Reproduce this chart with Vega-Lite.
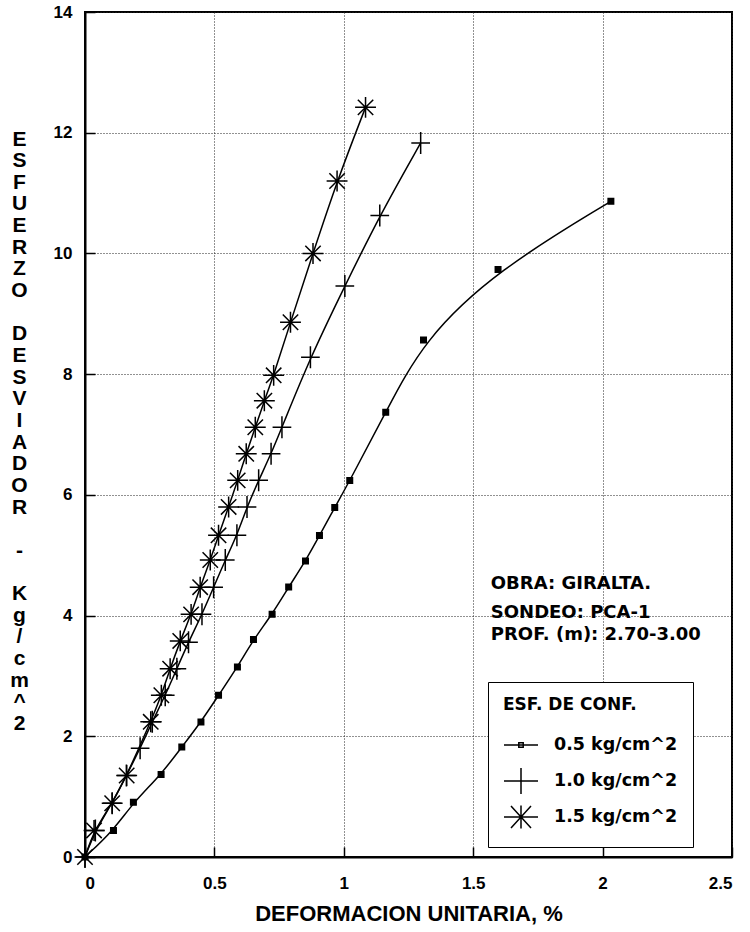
{
  "$schema": "https://vega.github.io/schema/vega-lite/v6.json",
  "width": 647,
  "height": 845,
  "autosize": {"type": "none"},
  "padding": {"left": 85, "top": 12, "right": 18, "bottom": 75},
  "background": "white",
  "config": {
    "font": "Liberation Sans",
    "view": {"stroke": "black", "strokeWidth": 2},
    "axis": {
      "grid": true,
      "gridColor": "#222222",
      "gridDash": [1, 2],
      "gridWidth": 1,
      "domainColor": "black",
      "domainWidth": 2,
      "tickColor": "black",
      "tickWidth": 1.5,
      "tickSize": -10,
      "labelFont": "Liberation Sans",
      "labelFontSize": 17,
      "labelFontWeight": "bold",
      "labelColor": "black",
      "titleFont": "Liberation Sans",
      "titleFontWeight": "bold",
      "titleColor": "black"
    }
  },
  "datasets": {
    "ensayo": [
      {"conf": "0.5 kg/cm^2", "def": 0, "esf": 0},
      {"conf": "0.5 kg/cm^2", "def": 0.11, "esf": 0.44},
      {"conf": "0.5 kg/cm^2", "def": 0.187, "esf": 0.906},
      {"conf": "0.5 kg/cm^2", "def": 0.294, "esf": 1.365},
      {"conf": "0.5 kg/cm^2", "def": 0.374, "esf": 1.822},
      {"conf": "0.5 kg/cm^2", "def": 0.448, "esf": 2.237},
      {"conf": "0.5 kg/cm^2", "def": 0.516, "esf": 2.679},
      {"conf": "0.5 kg/cm^2", "def": 0.589, "esf": 3.148},
      {"conf": "0.5 kg/cm^2", "def": 0.651, "esf": 3.602},
      {"conf": "0.5 kg/cm^2", "def": 0.723, "esf": 4.021},
      {"conf": "0.5 kg/cm^2", "def": 0.787, "esf": 4.473},
      {"conf": "0.5 kg/cm^2", "def": 0.852, "esf": 4.904},
      {"conf": "0.5 kg/cm^2", "def": 0.906, "esf": 5.325},
      {"conf": "0.5 kg/cm^2", "def": 0.965, "esf": 5.789},
      {"conf": "0.5 kg/cm^2", "def": 1.023, "esf": 6.236},
      {"conf": "0.5 kg/cm^2", "def": 1.162, "esf": 7.367},
      {"conf": "0.5 kg/cm^2", "def": 1.308, "esf": 8.565},
      {"conf": "0.5 kg/cm^2", "def": 1.596, "esf": 9.732},
      {"conf": "0.5 kg/cm^2", "def": 2.032, "esf": 10.863},
      {"conf": "1.0 kg/cm^2", "def": 0, "esf": 0},
      {"conf": "1.0 kg/cm^2", "def": 0.04, "esf": 0.44},
      {"conf": "1.0 kg/cm^2", "def": 0.105, "esf": 0.89},
      {"conf": "1.0 kg/cm^2", "def": 0.16, "esf": 1.35},
      {"conf": "1.0 kg/cm^2", "def": 0.213, "esf": 1.8},
      {"conf": "1.0 kg/cm^2", "def": 0.26, "esf": 2.24},
      {"conf": "1.0 kg/cm^2", "def": 0.31, "esf": 2.68},
      {"conf": "1.0 kg/cm^2", "def": 0.355, "esf": 3.12},
      {"conf": "1.0 kg/cm^2", "def": 0.4, "esf": 3.56},
      {"conf": "1.0 kg/cm^2", "def": 0.452, "esf": 4.02},
      {"conf": "1.0 kg/cm^2", "def": 0.497, "esf": 4.47},
      {"conf": "1.0 kg/cm^2", "def": 0.542, "esf": 4.92},
      {"conf": "1.0 kg/cm^2", "def": 0.587, "esf": 5.33},
      {"conf": "1.0 kg/cm^2", "def": 0.626, "esf": 5.8},
      {"conf": "1.0 kg/cm^2", "def": 0.671, "esf": 6.24},
      {"conf": "1.0 kg/cm^2", "def": 0.719, "esf": 6.68},
      {"conf": "1.0 kg/cm^2", "def": 0.761, "esf": 7.12},
      {"conf": "1.0 kg/cm^2", "def": 0.871, "esf": 8.28},
      {"conf": "1.0 kg/cm^2", "def": 1.004, "esf": 9.46},
      {"conf": "1.0 kg/cm^2", "def": 1.139, "esf": 10.63},
      {"conf": "1.0 kg/cm^2", "def": 1.297, "esf": 11.83},
      {"conf": "1.5 kg/cm^2", "def": 0, "esf": 0},
      {"conf": "1.5 kg/cm^2", "def": 0.035, "esf": 0.44},
      {"conf": "1.5 kg/cm^2", "def": 0.105, "esf": 0.89},
      {"conf": "1.5 kg/cm^2", "def": 0.161, "esf": 1.35},
      {"conf": "1.5 kg/cm^2", "def": 0.254, "esf": 2.24},
      {"conf": "1.5 kg/cm^2", "def": 0.295, "esf": 2.68},
      {"conf": "1.5 kg/cm^2", "def": 0.329, "esf": 3.12},
      {"conf": "1.5 kg/cm^2", "def": 0.368, "esf": 3.58},
      {"conf": "1.5 kg/cm^2", "def": 0.41, "esf": 4.02},
      {"conf": "1.5 kg/cm^2", "def": 0.445, "esf": 4.47},
      {"conf": "1.5 kg/cm^2", "def": 0.484, "esf": 4.92},
      {"conf": "1.5 kg/cm^2", "def": 0.516, "esf": 5.33},
      {"conf": "1.5 kg/cm^2", "def": 0.555, "esf": 5.8},
      {"conf": "1.5 kg/cm^2", "def": 0.59, "esf": 6.24},
      {"conf": "1.5 kg/cm^2", "def": 0.623, "esf": 6.68},
      {"conf": "1.5 kg/cm^2", "def": 0.658, "esf": 7.12},
      {"conf": "1.5 kg/cm^2", "def": 0.693, "esf": 7.56},
      {"conf": "1.5 kg/cm^2", "def": 0.729, "esf": 7.98},
      {"conf": "1.5 kg/cm^2", "def": 0.794, "esf": 8.86},
      {"conf": "1.5 kg/cm^2", "def": 0.881, "esf": 10.0},
      {"conf": "1.5 kg/cm^2", "def": 0.974, "esf": 11.2},
      {"conf": "1.5 kg/cm^2", "def": 1.084, "esf": 12.42}
    ],
    "obra": [{"nota": "OBRA: GIRALTA."}],
    "sondeo": [{"nota": "SONDEO: PCA-1"}],
    "prof": [{"nota": "PROF. (m): 2.70-3.00"}]
  },
  "resolve": {"scale": {"shape": "independent"}, "legend": {"shape": "independent"}},
  "layer": [
    {
      "data": {"name": "ensayo"},
      "encoding": {
        "x": {
          "field": "def",
          "type": "quantitative",
          "scale": {"domain": [0, 2.5], "nice": false, "zero": false},
          "axis": {
            "values": [0, 0.5, 1, 1.5, 2, 2.5],
            "format": "~g",
            "labelPadding": 28,
            "title": "DEFORMACION UNITARIA, %",
            "titleFontSize": 22,
            "titleBaseline": "alphabetic",
            "titleY": 63
          }
        },
        "y": {
          "field": "esf",
          "type": "quantitative",
          "scale": {"domain": [0, 14], "nice": false},
          "axis": {
            "values": [0, 2, 4, 6, 8, 10, 12, 14],
            "format": "~g",
            "labelPadding": 23,
            "title": ["E", "S", "F", "U", "E", "R", "Z", "O", "\u2800", "D", "E", "S", "V", "I", "A", "D", "O", "R", "\u2800", "-", "\u2800", "K", "g", "/", "c", "m", "^", "2"],
            "titleAngle": 0,
            "titleAlign": "center",
            "titleBaseline": "alphabetic",
            "titleFontSize": 21,
            "titleLineHeight": 21.65,
            "titleX": -66,
            "titleY": 133
          }
        }
      },
      "resolve": {"scale": {"shape": "independent"}, "legend": {"shape": "independent"}},
      "layer": [
        {
          "mark": {"type": "line", "interpolate": "basis", "color": "black", "strokeWidth": 1.5},
          "encoding": {"detail": {"field": "conf"}}
        },
        {
          "mark": {"type": "point", "filled": true, "color": "black", "stroke": "black", "strokeWidth": 1.5, "size": 484, "opacity": 1},
          "encoding": {
            "shape": {
              "field": "conf",
              "type": "nominal",
              "scale": {
                "domain": ["0.5 kg/cm^2", "1.0 kg/cm^2", "1.5 kg/cm^2"],
                "range": [
                  "M-0.25,-0.25H0.25V0.25H-0.25Z",
                  "M-0.85,0H0.85M0,-1V1",
                  "M-0.95,0H0.95M0,-0.95V0.95M-0.7,-0.7L0.7,0.7M-0.7,0.7L0.7,-0.7"
                ]
              },
              "legend": null
            }
          }
        },
        {
          "mark": {"type": "point", "filled": false, "color": "black", "strokeWidth": 1.5, "size": 400, "opacity": 0},
          "encoding": {
            "shape": {
              "field": "conf",
              "type": "nominal",
              "scale": {
                "domain": ["0.5 kg/cm^2", "1.0 kg/cm^2", "1.5 kg/cm^2"],
                "range": [
                  "M-1.7,0H1.7M-0.22,-0.22H0.22V0.22H-0.22Z",
                  "M-1.7,0H1.7M0,-1.3V1.3",
                  "M-1.7,0H1.7M0,-1.15V1.15M-1,-1.1L1,1.1M-1,1.1L1,-1.1"
                ]
              },
              "legend": {
                "title": "ESF. DE CONF.",
                "orient": "none",
                "legendX": 403,
                "legendY": 670,
                "padding": 15,
                "strokeColor": "black",
                "fillColor": "white",
                "titleFont": "DejaVu Sans",
                "titleFontSize": 17,
                "titleFontWeight": "bold",
                "titleColor": "black",
                "titlePadding": 20,
                "labelFont": "DejaVu Sans",
                "labelFontSize": 17.5,
                "labelFontWeight": "bold",
                "labelColor": "black",
                "labelOffset": 22,
                "symbolOffset": 7,
                "symbolSize": 400,
                "gridAlign": "all",
                "rowPadding": 4,
                "symbolOpacity": 1,
                "symbolStrokeWidth": 1.5,
                "symbolStrokeColor": "black"
              }
            }
          }
        }
      ]
    },
    {
      "data": {"name": "obra"},
      "mark": {"type": "text", "align": "left", "baseline": "middle", "font": "DejaVu Sans", "fontSize": 18, "fontWeight": "bold", "color": "black"},
      "encoding": {
        "x": {"datum": 1.568},
        "y": {"datum": 4.53},
        "text": {"field": "nota", "type": "nominal"}
      }
    },
    {
      "data": {"name": "sondeo"},
      "mark": {"type": "text", "align": "left", "baseline": "middle", "font": "DejaVu Sans", "fontSize": 18, "fontWeight": "bold", "color": "black"},
      "encoding": {
        "x": {"datum": 1.568},
        "y": {"datum": 4.05},
        "text": {"field": "nota", "type": "nominal"}
      }
    },
    {
      "data": {"name": "prof"},
      "mark": {"type": "text", "align": "left", "baseline": "middle", "font": "DejaVu Sans", "fontSize": 18, "fontWeight": "bold", "color": "black"},
      "encoding": {
        "x": {"datum": 1.568},
        "y": {"datum": 3.67},
        "text": {"field": "nota", "type": "nominal"}
      }
    }
  ]
}
